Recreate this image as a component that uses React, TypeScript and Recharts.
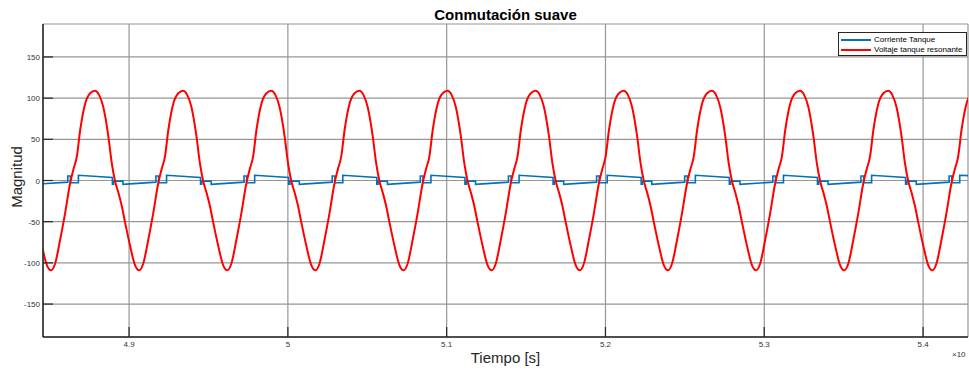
import { LineChart, Line, XAxis, YAxis, CartesianGrid } from "recharts";

// eje x en unidades de la figura (x10^-n s)
const xTicks = [4.9, 5, 5.1, 5.2, 5.3, 5.4];
const yTicks = [-150, -100, -50, 0, 50, 100, 150];

// Voltaje tanque resonante (un renglon por ciclo)
const redTime = [
  4.8451, 4.8483,
  4.8509, 4.8534, 4.8566, 4.8597, 4.8629, 4.8649, 4.8671, 4.8692, 4.8723, 4.8755, 4.8786, 4.8811, 4.8838, 4.887, 4.8891, 4.8912, 4.8933, 4.8954, 4.8975, 4.9006, 4.9038,
  4.9064, 4.9089, 4.9121, 4.9152, 4.9184, 4.9204, 4.9226, 4.9247, 4.9278, 4.931, 4.9341, 4.9366, 4.9393, 4.9425, 4.9446, 4.9467, 4.9488, 4.9509, 4.953, 4.9561, 4.9593,
  4.9619, 4.9644, 4.9676, 4.9707, 4.9739, 4.9759, 4.9781, 4.9802, 4.9833, 4.9865, 4.9896, 4.9921, 4.9948, 4.998, 5.0001, 5.0022, 5.0043, 5.0064, 5.0085, 5.0116, 5.0148,
  5.0174, 5.0199, 5.0231, 5.0262, 5.0294, 5.0314, 5.0336, 5.0357, 5.0388, 5.042, 5.0451, 5.0476, 5.0503, 5.0535, 5.0556, 5.0577, 5.0598, 5.0619, 5.064, 5.0671, 5.0703,
  5.0729, 5.0754, 5.0786, 5.0817, 5.0849, 5.0869, 5.0891, 5.0912, 5.0943, 5.0975, 5.1006, 5.1031, 5.1058, 5.109, 5.1111, 5.1132, 5.1153, 5.1174, 5.1195, 5.1226, 5.1258,
  5.1284, 5.1309, 5.1341, 5.1372, 5.1404, 5.1424, 5.1446, 5.1467, 5.1498, 5.153, 5.1561, 5.1586, 5.1613, 5.1645, 5.1666, 5.1687, 5.1708, 5.1729, 5.175, 5.1781, 5.1813,
  5.1839, 5.1864, 5.1896, 5.1927, 5.1959, 5.1979, 5.2001, 5.2022, 5.2053, 5.2085, 5.2116, 5.2141, 5.2168, 5.22, 5.2221, 5.2242, 5.2263, 5.2284, 5.2305, 5.2336, 5.2368,
  5.2394, 5.2419, 5.2451, 5.2482, 5.2514, 5.2534, 5.2556, 5.2577, 5.2608, 5.264, 5.2671, 5.2696, 5.2723, 5.2755, 5.2776, 5.2797, 5.2818, 5.2839, 5.286, 5.2891, 5.2923,
  5.2949, 5.2974, 5.3006, 5.3037, 5.3069, 5.3089, 5.3111, 5.3132, 5.3163, 5.3195, 5.3226, 5.3251, 5.3278, 5.331, 5.3331, 5.3352, 5.3373, 5.3394, 5.3415, 5.3446, 5.3478,
  5.3504, 5.3529, 5.3561, 5.3592, 5.3624, 5.3644, 5.3666, 5.3687, 5.3718, 5.375, 5.3781, 5.3806, 5.3833, 5.3865, 5.3886, 5.3907, 5.3928, 5.3949, 5.397, 5.4001, 5.4033,
  5.4059, 5.4084, 5.4116, 5.4147, 5.4179, 5.4199, 5.4221, 5.4242, 5.4273, 5.4305,
];
const redValue = [
  -79, -103,
  -109, -101, -72, -40, -3, 13, 29, 61, 93, 106, 109, 104, 89, 53, 21, -1, -15, -31, -51, -79, -103,
  -109, -101, -72, -40, -3, 13, 29, 61, 93, 106, 109, 104, 89, 53, 21, -1, -15, -31, -51, -79, -103,
  -109, -101, -72, -40, -3, 13, 29, 61, 93, 106, 109, 104, 89, 53, 21, -1, -15, -31, -51, -79, -103,
  -109, -101, -72, -40, -3, 13, 29, 61, 93, 106, 109, 104, 89, 53, 21, -1, -15, -31, -51, -79, -103,
  -109, -101, -72, -40, -3, 13, 29, 61, 93, 106, 109, 104, 89, 53, 21, -1, -15, -31, -51, -79, -103,
  -109, -101, -72, -40, -3, 13, 29, 61, 93, 106, 109, 104, 89, 53, 21, -1, -15, -31, -51, -79, -103,
  -109, -101, -72, -40, -3, 13, 29, 61, 93, 106, 109, 104, 89, 53, 21, -1, -15, -31, -51, -79, -103,
  -109, -101, -72, -40, -3, 13, 29, 61, 93, 106, 109, 104, 89, 53, 21, -1, -15, -31, -51, -79, -103,
  -109, -101, -72, -40, -3, 13, 29, 61, 93, 106, 109, 104, 89, 53, 21, -1, -15, -31, -51, -79, -103,
  -109, -101, -72, -40, -3, 13, 29, 61, 93, 106, 109, 104, 89, 53, 21, -1, -15, -31, -51, -79, -103,
  -109, -101, -72, -40, -3, 13, 29, 61, 93, 106,
];

// Corriente Tanque (escalones, cada instante aparece dos veces)
const blueTime = [
  4.8407,
  4.8614, 4.8614, 4.8631, 4.8631, 4.8681, 4.8681, 4.8895, 4.8895, 4.8903, 4.8903, 4.8962, 4.8962,
  4.9169, 4.9169, 4.9186, 4.9186, 4.9236, 4.9236, 4.945, 4.945, 4.9458, 4.9458, 4.9517, 4.9517,
  4.9724, 4.9724, 4.9741, 4.9741, 4.9791, 4.9791, 5.0005, 5.0005, 5.0013, 5.0013, 5.0072, 5.0072,
  5.0279, 5.0279, 5.0296, 5.0296, 5.0346, 5.0346, 5.056, 5.056, 5.0568, 5.0568, 5.0627, 5.0627,
  5.0834, 5.0834, 5.0851, 5.0851, 5.0901, 5.0901, 5.1115, 5.1115, 5.1123, 5.1123, 5.1182, 5.1182,
  5.1389, 5.1389, 5.1406, 5.1406, 5.1456, 5.1456, 5.167, 5.167, 5.1678, 5.1678, 5.1737, 5.1737,
  5.1944, 5.1944, 5.1961, 5.1961, 5.2011, 5.2011, 5.2225, 5.2225, 5.2233, 5.2233, 5.2292, 5.2292,
  5.2499, 5.2499, 5.2516, 5.2516, 5.2566, 5.2566, 5.278, 5.278, 5.2788, 5.2788, 5.2847, 5.2847,
  5.3054, 5.3054, 5.3071, 5.3071, 5.3121, 5.3121, 5.3335, 5.3335, 5.3343, 5.3343, 5.3402, 5.3402,
  5.3609, 5.3609, 5.3626, 5.3626, 5.3676, 5.3676, 5.389, 5.389, 5.3898, 5.3898, 5.3957, 5.3957,
  5.4164, 5.4164, 5.4181, 5.4181, 5.4231, 5.4231, 5.43,
];
const blueValue = [
  -4.6,
  -2.0, 5.4, 5.4, -2.8, -2.8, 6.3, 3.6, -4.4, -4.4, -0.8, -0.8, -4.6,
  -2.0, 5.4, 5.4, -2.8, -2.8, 6.3, 3.6, -4.4, -4.4, -0.8, -0.8, -4.6,
  -2.0, 5.4, 5.4, -2.8, -2.8, 6.3, 3.6, -4.4, -4.4, -0.8, -0.8, -4.6,
  -2.0, 5.4, 5.4, -2.8, -2.8, 6.3, 3.6, -4.4, -4.4, -0.8, -0.8, -4.6,
  -2.0, 5.4, 5.4, -2.8, -2.8, 6.3, 3.6, -4.4, -4.4, -0.8, -0.8, -4.6,
  -2.0, 5.4, 5.4, -2.8, -2.8, 6.3, 3.6, -4.4, -4.4, -0.8, -0.8, -4.6,
  -2.0, 5.4, 5.4, -2.8, -2.8, 6.3, 3.6, -4.4, -4.4, -0.8, -0.8, -4.6,
  -2.0, 5.4, 5.4, -2.8, -2.8, 6.3, 3.6, -4.4, -4.4, -0.8, -0.8, -4.6,
  -2.0, 5.4, 5.4, -2.8, -2.8, 6.3, 3.6, -4.4, -4.4, -0.8, -0.8, -4.6,
  -2.0, 5.4, 5.4, -2.8, -2.8, 6.3, 3.6, -4.4, -4.4, -0.8, -0.8, -4.6,
  -2.0, 5.4, 5.4, -2.8, -2.8, 6.3, 5.8,
];

const FONT = "'Liberation Sans', Arial, Helvetica, sans-serif";
const AXIS = "#262626";
const GRID = "#969696";
const TICK_LEN = 10;

const redData = redTime.map((t, i) => ({ t, v: redValue[i] }));
const blueData = blueTime.map((t, i) => ({ t, v: blueValue[i] }));

const fmtX = (v: number) => String(Number(v.toFixed(1)));

const BottomTick = (props: any) => {
  const { x, y, payload } = props;
  return (
    <g>
      <line x1={x} x2={x} y1={y} y2={y - TICK_LEN} stroke={AXIS} strokeWidth={1.2} />
      <text x={x} y={y + 9.5} textAnchor="middle" fontSize={8} fill="#333" fontFamily={FONT}>
        {fmtX(payload.value)}
      </text>
    </g>
  );
};

const TopTick = (props: any) => {
  const { x, y } = props;
  return <line x1={x} x2={x} y1={y} y2={y + TICK_LEN} stroke={AXIS} strokeWidth={1.2} />;
};

const LeftTick = (props: any) => {
  const { x, y, payload } = props;
  return (
    <g>
      <line x1={x} x2={x + TICK_LEN} y1={y} y2={y} stroke={AXIS} strokeWidth={1.2} />
      <text x={x - 3} y={y + 3} textAnchor="end" fontSize={8} fill="#333" fontFamily={FONT}>
        {payload.value}
      </text>
    </g>
  );
};

const RightTick = (props: any) => {
  const { x, y } = props;
  return <line x1={x} x2={x - TICK_LEN} y1={y} y2={y} stroke={AXIS} strokeWidth={1.2} />;
};

export default function App() {
  return (
    <div
      style={{
        position: "absolute",
        left: 0,
        top: 0,
        width: 969,
        height: 371,
        overflow: "hidden",
        background: "#fff",
        fontFamily: FONT,
      }}
    >
      <LineChart
        width={969}
        height={371}
        margin={{ top: 24, right: 1, bottom: 0, left: 0 }}
      >
        <CartesianGrid stroke={GRID} strokeWidth={1.2} />
        <XAxis
          dataKey="t"
          type="number"
          domain={[4.8458, 5.4283]}
          ticks={xTicks}
          allowDataOverflow
          interval={0}
          height={34}
          tickSize={0}
          tickMargin={0}
          tickLine={false}
          tick={<BottomTick />}
          axisLine={{ stroke: AXIS, strokeWidth: 1.5 }}
        />
        <XAxis
          xAxisId="top"
          orientation="top"
          dataKey="t"
          type="number"
          domain={[4.8458, 5.4283]}
          ticks={xTicks}
          allowDataOverflow
          interval={0}
          height={0}
          tickSize={0}
          tickMargin={0}
          tickLine={false}
          tick={<TopTick />}
          axisLine={{ stroke: AXIS, strokeWidth: 1.5 }}
        />
        <YAxis
          type="number"
          domain={[-190, 190]}
          ticks={yTicks}
          allowDataOverflow
          interval={0}
          width={43}
          tickSize={0}
          tickMargin={0}
          tickLine={false}
          tick={<LeftTick />}
          axisLine={{ stroke: AXIS, strokeWidth: 1.5 }}
        />
        <YAxis
          yAxisId="right"
          orientation="right"
          type="number"
          domain={[-190, 190]}
          ticks={yTicks}
          allowDataOverflow
          interval={0}
          width={0}
          tickSize={0}
          tickMargin={0}
          tickLine={false}
          tick={<RightTick />}
          axisLine={{ stroke: AXIS, strokeWidth: 1.5 }}
        />
        <Line
          data={blueData}
          dataKey="v"
          type="linear"
          stroke="#0072BD"
          strokeWidth={1.6}
          dot={false}
          isAnimationActive={false}
          name="Corriente Tanque"
        />
        <Line
          data={redData}
          dataKey="v"
          type="monotone"
          stroke="#FF0000"
          strokeWidth={2}
          dot={false}
          isAnimationActive={false}
          name="Voltaje tanque resonante"
        />
      </LineChart>

      {/* titulo y etiquetas */}
      <div
        style={{
          position: "absolute",
          left: 43,
          width: 925,
          top: 5,
          lineHeight: "20px",
          textAlign: "center",
          fontWeight: "bold",
          fontSize: 15,
          color: "#000",
        }}
      >
        Conmutación suave
      </div>
      <div
        style={{
          position: "absolute",
          left: 43,
          width: 925,
          top: 348,
          lineHeight: "20px",
          textAlign: "center",
          fontSize: 15,
          color: "#262626",
        }}
      >
        Tiempo [s]
      </div>
      <div
        style={{
          position: "absolute",
          left: 17,
          top: 177,
          transform: "translate(-50%, -50%) rotate(-90deg)",
          whiteSpace: "nowrap",
          lineHeight: "20px",
          fontSize: 15,
          color: "#262626",
        }}
      >
        Magnitud
      </div>
      <div
        style={{
          position: "absolute",
          left: 952,
          top: 350,
          fontSize: 8,
          lineHeight: "10px",
          color: "#333",
          whiteSpace: "nowrap",
        }}
      >
        ×10
      </div>

      {/* leyenda */}
      <div
        style={{
          position: "absolute",
          left: 838,
          top: 32,
          width: 127,
          height: 22,
          border: "1px solid #262626",
          background: "#fff",
          fontSize: 8,
          color: "#000",
        }}
      >
        {[
          { label: "Corriente Tanque", color: "#0072BD" },
          { label: "Voltaje tanque resonante", color: "#FF0000" },
        ].map((item, i) => (
          <div
            key={item.label}
            style={{
              position: "absolute",
              left: 2,
              top: 2 + i * 9.5,
              height: 10,
              display: "flex",
              alignItems: "center",
              whiteSpace: "nowrap",
            }}
          >
            <div style={{ width: 30, height: 2, background: item.color, marginRight: 3 }} />
            <span style={{ lineHeight: "10px" }}>{item.label}</span>
          </div>
        ))}
      </div>
    </div>
  );
}
